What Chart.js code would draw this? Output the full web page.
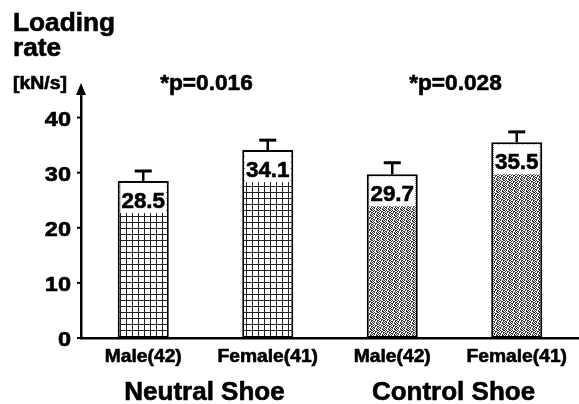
<!DOCTYPE html>
<html>
<head>
<meta charset="utf-8">
<script src="https://cdn.jsdelivr.net/npm/chart.js@4"></script>
<style>
  html, body { margin: 0; padding: 0; background: #fff; }
  #wrap { width: 579px; height: 404px; position: relative; }
</style>
</head>
<body>
<div id="wrap"><canvas id="chart" width="579" height="404"></canvas></div>
<script>
// values
const groups = ["Neutral Shoe", "Control Shoe"];
const categories = ["Male(42)", "Female(41)", "Male(42)", "Female(41)"];
const means = [28.5, 34.1, 29.7, 35.5];
const errors = [1.8, 1.8, 2.1, 1.9];
const pValues = ["*p=0.016", "*p=0.028"];
const yTicks = [0, 10, 20, 30, 40];

const FONT = '"Liberation Sans", Arial, sans-serif';

function makePattern(rows, ink) {
  const c = document.createElement("canvas");
  c.width = rows[0].length;
  c.height = rows.length;
  const g = c.getContext("2d");
  g.fillStyle = "#fff";
  g.fillRect(0, 0, c.width, c.height);
  g.fillStyle = ink;
  rows.forEach((r, y) => {
    for (let x = 0; x < r.length; x++) {
      if (r[x] === "#") g.fillRect(x, y, 1, 1);
    }
  });
  return g.createPattern(c, "repeat");
}

// square mesh for the neutral shoe, speckle for the control shoe
const gridFill = makePattern([
  "######",
  "#.....",
  "#.....",
  "#.....",
  "#.....",
  "#....."
], "#222");
const dotFill = makePattern([
  "#.#..#",
  ".#.##.",
  "#..#.#",
  ".##..#",
  "#.#.#.",
  ".#..##"
], "#333");

// bold text, a bit widened and thickened like the scanned figure
function txt(ctx, s, x, y, size, align, sx) {
  ctx.save();
  ctx.font = `bold ${size}px ${FONT}`;
  ctx.fillStyle = "#000";
  ctx.strokeStyle = "#000";
  ctx.lineWidth = 0.6;
  ctx.textAlign = align;
  ctx.textBaseline = "alphabetic";
  ctx.translate(x, y);
  ctx.scale(sx, 1);
  ctx.fillText(s, 0, 0);
  ctx.strokeText(s, 0, 0);
  ctx.restore();
}

const decor = {
  id: "decor",
  afterDatasetsDraw(chart) {
    const ctx = chart.ctx;
    const xs = chart.scales.x, ys = chart.scales.y;
    const meta = chart.getDatasetMeta(0);
    const ax = xs.left;

    // error bars and value boxes
    meta.data.forEach((bar, i) => {
      const top = ys.getPixelForValue(means[i]);
      const capY = ys.getPixelForValue(means[i] + errors[i]);
      ctx.save();
      ctx.strokeStyle = "#000";
      ctx.lineWidth = 2.5;
      ctx.beginPath();
      ctx.moveTo(bar.x, top);
      ctx.lineTo(bar.x, capY);
      ctx.stroke();
      ctx.lineWidth = 3;
      ctx.beginPath();
      ctx.moveTo(bar.x - 8.5, capY);
      ctx.lineTo(bar.x + 8.5, capY);
      ctx.stroke();
      const half = bar.width / 2;
      ctx.fillStyle = "#fff";
      ctx.fillRect(bar.x - half + 2.5, top + 2, bar.width - 5, 30);
      ctx.restore();
      txt(ctx, means[i].toFixed(1), bar.x, top + 27, 22, "center", 1.02);
      txt(ctx, categories[i], bar.x, 362, 18.5, "center", 1.04);
    });

    // y ticks and labels
    ctx.save();
    ctx.strokeStyle = "#000";
    ctx.lineWidth = 2;
    yTicks.forEach(v => {
      const y = ys.getPixelForValue(v);
      ctx.beginPath();
      ctx.moveTo(ax - 4, y);
      ctx.lineTo(ax, y);
      ctx.stroke();
    });
    ctx.restore();
    yTicks.forEach(v => {
      txt(ctx, String(v), 71, ys.getPixelForValue(v) + 8, 21, "right", 1.12);
    });

    // arrow head on the y axis
    ctx.save();
    ctx.fillStyle = "#000";
    ctx.beginPath();
    ctx.moveTo(ax, 83);
    ctx.lineTo(ax - 5, 95);
    ctx.lineTo(ax + 5, 95);
    ctx.closePath();
    ctx.fill();
    ctx.restore();

    // group captions and p-values
    groups.forEach((g, k) => {
      const mid = (meta.data[k * 2].x + meta.data[k * 2 + 1].x) / 2;
      txt(ctx, g, mid - 1, 400, 25, "center", 1.04);
      txt(ctx, pValues[k], mid + 1, 90, 22, "center", 1.03);
    });

    // axis title
    txt(ctx, "Loading", 13, 31, 25, "left", 1.05);
    txt(ctx, "rate", 13, 56, 25, "left", 1.05);
    txt(ctx, "[kN/s]", 13, 89, 18, "left", 1.08);
  }
};

new Chart(document.getElementById("chart"), {
  type: "bar",
  data: {
    labels: categories,
    datasets: [{
      data: means,
      backgroundColor: [gridFill, gridFill, dotFill, dotFill],
      borderColor: "#000",
      borderWidth: 2,
      borderSkipped: false,
      barPercentage: 0.41,
      categoryPercentage: 1
    }]
  },
  options: {
    responsive: false,
    animation: false,
    layout: { padding: { top: 90, bottom: 66, left: 0, right: 0 } },
    plugins: { legend: { display: false }, tooltip: { enabled: false } },
    scales: {
      x: {
        ticks: { display: false },
        grid: { display: false },
        border: { display: true, color: "#000", width: 2.5 },
        afterFit(scale) { scale.height = 0; }
      },
      y: {
        min: 0,
        max: 45,
        ticks: { display: false, stepSize: 10 },
        afterBuildTicks(scale) { scale.ticks = yTicks.map(v => ({ value: v })); },
        grid: { display: false },
        border: { display: true, color: "#000", width: 2.5 },
        afterFit(scale) { scale.width = 81; }
      }
    }
  },
  plugins: [decor]
});
</script>
</body>
</html>
